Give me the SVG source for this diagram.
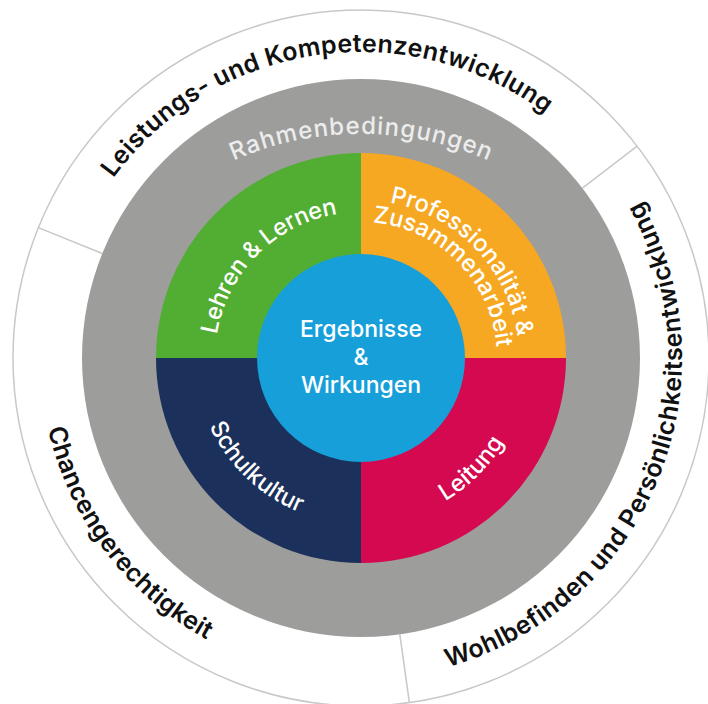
<svg xmlns="http://www.w3.org/2000/svg" width="708" height="704" viewBox="0 0 708 704">
<style>
.outer{font-family:Inter,"Liberation Sans",sans-serif;font-size:25px;font-weight:600;fill:#111111}
.inner{font-family:Inter,"Liberation Sans",sans-serif;font-size:23.5px;font-weight:500;fill:#ffffff}
.rahmen{font-family:Inter,"Liberation Sans",sans-serif;font-size:24px;font-weight:500;fill:#ececec}
.center{font-family:Inter,"Liberation Sans",sans-serif;font-size:23px;font-weight:500;fill:#ffffff}
.div{stroke:#c8c8c8;stroke-width:1.5;fill:none}
</style>
<defs>
<path id="pLeist" d="M83.7,228.7 A306,306 0 0 1 588.4,153.2"/>
<path id="pWohl" d="M389.0,677.8 A321,321 0 0 0 606.9,151.7"/>
<path id="pChance" d="M59.4,248.2 A321,321 0 0 0 383.4,678.2"/>
<path id="pRahmen" d="M147.5,215.9 A319,319 0 0 1 574.5,215.9"/>
<path id="pLehren" d="M215,358 A146,146 0 0 1 361,212"/>
<path id="pProf" d="M347.2,200.6 A158,158 0 0 1 517.6,379.2"/>
<path id="pZus" d="M337.4,224.1 A136,136 0 0 1 494.8,382.6"/>
<path id="pLeit" d="M361,524 A166,166 0 0 0 527,358"/>
<path id="pSchul" d="M195.0,361.5 A166,166 0 0 0 364.5,524.0"/>
</defs>
<rect x="0" y="0" width="708" height="704" fill="#ffffff"/>
<g id="outer-ring">
<circle cx="361" cy="358" r="348" fill="#ffffff" stroke="#c8c8c8" stroke-width="1.5"/>
</g>
<g id="connectors">
<line class="div" x1="102.3" y1="253.5" x2="38.3" y2="227.6"/>
<line class="div" x1="582.4" y1="188.1" x2="637.1" y2="146.1"/>
<line class="div" x1="399.8" y1="634.3" x2="409.4" y2="702.6"/>
</g>
<g id="leistung">
<text class="outer"><textPath href="#pLeist" startOffset="50%" text-anchor="middle" textLength="486" lengthAdjust="spacing">Leistungs- und Kompetenzentwicklung</textPath></text>
</g>
<g id="wohlbefinden">
<text class="outer"><textPath href="#pWohl" startOffset="50%" text-anchor="middle" textLength="580" lengthAdjust="spacing">Wohlbefinden und Persönlichkeitsentwicklung</textPath></text>
</g>
<g id="chancengerechtigkeit">
<text class="outer"><textPath href="#pChance" startOffset="50%" text-anchor="middle" textLength="272" lengthAdjust="spacing">Chancengerechtigkeit</textPath></text>
</g>
<g id="rahmenbedingungen">
<circle cx="361" cy="358" r="279" fill="#9d9d9c"/>
<text class="rahmen"><textPath href="#pRahmen" startOffset="50%" text-anchor="middle" textLength="262" lengthAdjust="spacing">Rahmenbedingungen</textPath></text>
</g>
<g id="lehren">
<path d="M361,358 L156,358 A205,205 0 0 1 361,153 Z" fill="#52ae32"/>
<text class="inner"><textPath href="#pLehren" startOffset="50%" text-anchor="middle" textLength="182" lengthAdjust="spacing">Lehren &amp; Lernen</textPath></text>
</g>
<g id="professionalitaet">
<path d="M361,358 L361,153 A205,205 0 0 1 566,358 Z" fill="#f6a823"/>
<text class="inner"><textPath href="#pProf" startOffset="50%" text-anchor="middle" textLength="198" lengthAdjust="spacing">Professionalität &amp;</textPath></text>
<text class="inner"><textPath href="#pZus" startOffset="50%" text-anchor="middle" textLength="191" lengthAdjust="spacing">Zusammenarbeit</textPath></text>
</g>
<g id="leitung">
<path d="M361,358 L566,358 A205,205 0 0 1 361,563 Z" fill="#d5094f"/>
<text class="inner"><textPath href="#pLeit" startOffset="50%" text-anchor="middle" textLength="84" lengthAdjust="spacing">Leitung</textPath></text>
</g>
<g id="schulkultur">
<path d="M361,358 L361,563 A205,205 0 0 1 156,358 Z" fill="#1b305b"/>
<text class="inner"><textPath href="#pSchul" startOffset="50%" text-anchor="middle" textLength="128" lengthAdjust="spacing">Schulkultur</textPath></text>
</g>
<g id="ergebnisse">
<circle cx="361" cy="358" r="104" fill="#179fd9"/>
<text class="center" x="361" y="337" text-anchor="middle">Ergebnisse</text>
<text class="center" x="361" y="365" text-anchor="middle">&amp;</text>
<text class="center" x="361" y="393" text-anchor="middle">Wirkungen</text>
</g>
</svg>
